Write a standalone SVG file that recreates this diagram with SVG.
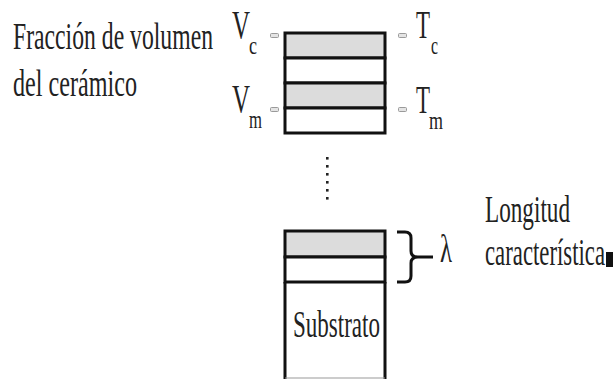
<svg xmlns="http://www.w3.org/2000/svg" width="613" height="379" viewBox="0 0 613 379">
<style>
text{font-family:"Liberation Serif","Times New Roman",serif;fill:#222;}
.big{font-size:38px;}
.lab{font-size:40px;}
.sub{font-size:25px;}
.layer{stroke:#111;stroke-width:3;}
.gray{fill:#dcdcdc;}
.white{fill:#fff;}
.mk{fill:#e4e4e4;stroke:#9a9a9a;stroke-width:1;}
</style>
<rect width="613" height="379" fill="#fff"/>
<g id="caption">
<text class="big" x="13" y="49" textLength="200" lengthAdjust="spacingAndGlyphs">Fracción de volumen</text>
<text class="big" x="13" y="96" textLength="124" lengthAdjust="spacingAndGlyphs">del cerámico</text>
</g>
<g id="top-stack">
<rect class="layer gray" x="285" y="33" width="100" height="25"/>
<rect class="layer white" x="285" y="58" width="100" height="25"/>
<rect class="layer gray" x="285" y="83" width="100" height="25"/>
<rect class="layer white" x="285" y="108" width="100" height="25"/>
</g>
<g id="markers">
<rect class="mk" x="270.5" y="33.5" width="8" height="4" rx="1"/>
<rect class="mk" x="270.5" y="107.5" width="8" height="4" rx="1"/>
<rect class="mk" x="398.5" y="33.5" width="8" height="4" rx="1"/>
<rect class="mk" x="398.5" y="107.5" width="8" height="4" rx="1"/>
</g>
<g id="Vc"><text class="lab" x="232" y="38" textLength="18" lengthAdjust="spacingAndGlyphs">V</text><text class="sub" x="249" y="54" textLength="8" lengthAdjust="spacingAndGlyphs">c</text></g>
<g id="Vm"><text class="lab" x="232" y="112" textLength="18" lengthAdjust="spacingAndGlyphs">V</text><text class="sub" x="249" y="128" textLength="13" lengthAdjust="spacingAndGlyphs">m</text></g>
<g id="Tc"><text class="lab" x="416" y="38" textLength="14" lengthAdjust="spacingAndGlyphs">T</text><text class="sub" x="431" y="54" textLength="7" lengthAdjust="spacingAndGlyphs">c</text></g>
<g id="Tm"><text class="lab" x="416" y="113" textLength="14" lengthAdjust="spacingAndGlyphs">T</text><text class="sub" x="429" y="129" textLength="14" lengthAdjust="spacingAndGlyphs">m</text></g>
<g id="dots" fill="#222">
<rect x="326" y="157" width="2.6" height="2.6"/><rect x="326" y="165" width="2.6" height="2.6"/><rect x="326" y="173" width="2.6" height="2.6"/><rect x="326" y="181" width="2.6" height="2.6"/><rect x="326" y="189" width="2.6" height="2.6"/><rect x="326" y="197" width="2.6" height="2.6"/>
</g>
<g id="bottom-stack">
<rect class="layer gray" x="285" y="231" width="100" height="26"/>
<rect class="layer white" x="285" y="257" width="100" height="25"/>
<path d="M285 282 V380 M385 282 V380" fill="none" stroke="#111" stroke-width="3"/>
<line x1="285" y1="378" x2="385" y2="378" stroke="#999" stroke-width="1"/>
<text class="big" x="293" y="337" textLength="87" lengthAdjust="spacingAndGlyphs">Substrato</text>
</g>
<g id="connectors">
<path d="M397 232 H405 Q411 232 411 238 V251 Q411 257 418 257 H433 M418 257 Q411 257 411 263 V276 Q411 282 405 282 H397" fill="none" stroke="#111" stroke-width="3"/>
</g>
<g id="lambda"><text class="lab" x="440" y="262" textLength="12" lengthAdjust="spacingAndGlyphs">λ</text></g>
<g id="longitud">
<text class="big" x="485" y="222" textLength="85" lengthAdjust="spacingAndGlyphs">Longitud</text>
<text class="big" x="485" y="265" textLength="120" lengthAdjust="spacingAndGlyphs">característica</text>
<rect x="606" y="252" width="7" height="15" fill="#111"/>
</g>
</svg>
